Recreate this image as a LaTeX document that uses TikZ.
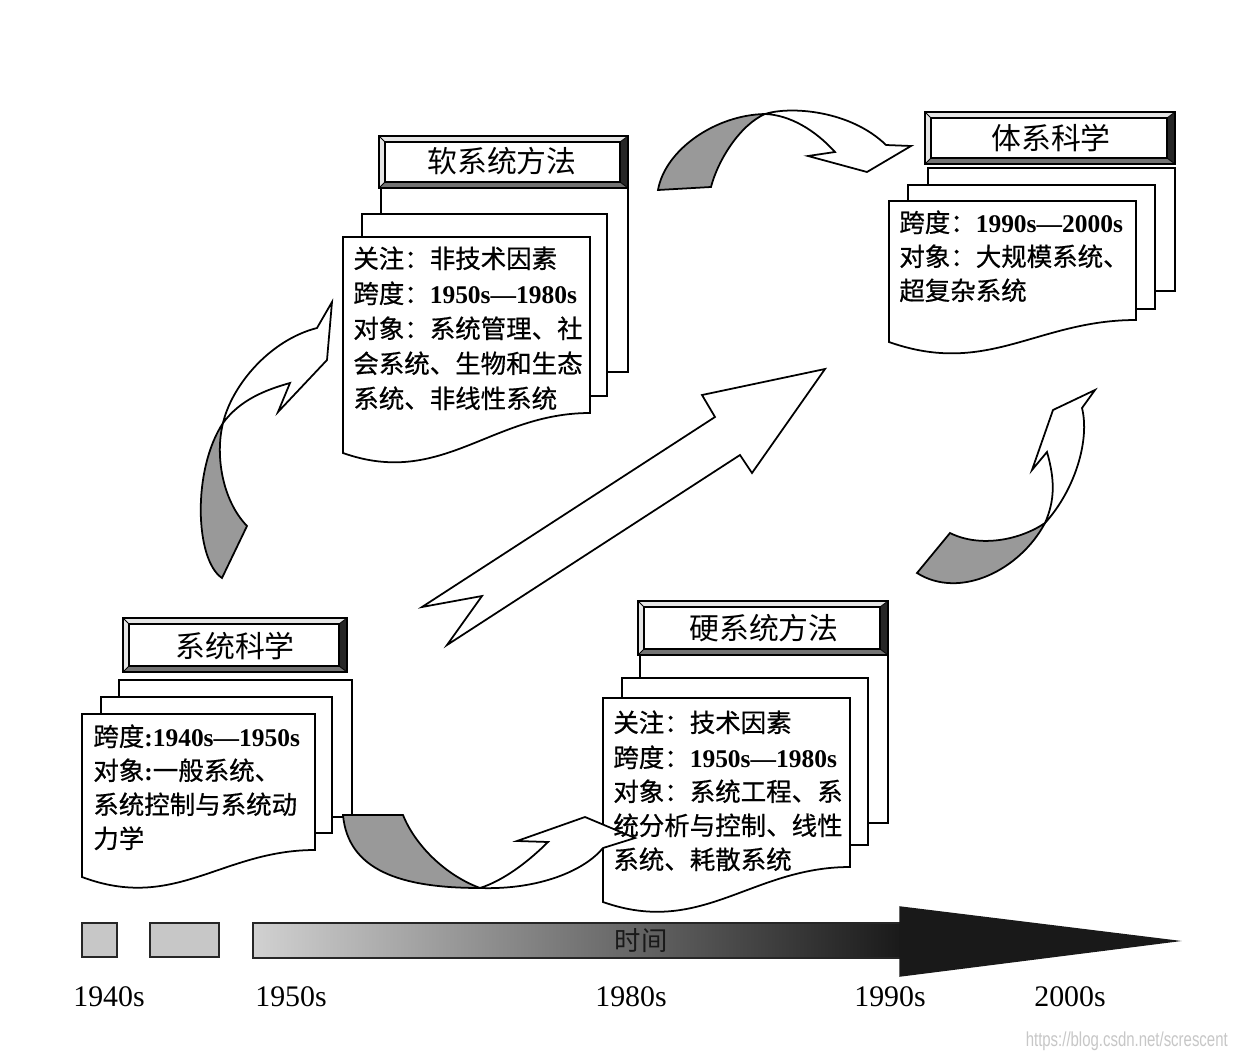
\documentclass[tikz,border=0pt]{standalone}
\usepackage{fontspec}
\setmainfont{Liberation Serif}
\newfontfamily\cjk{Noto Sans CJK SC}
\newfontfamily\cjkb[FakeBold=0.6]{Noto Sans CJK SC}
\newfontfamily\wmfont{Liberation Sans}
\newcommand{\numb}[1]{{\rmfamily\bfseries #1}}
% title box with bevelled frame: x1,y1 (top-left), x2,y2 (bottom-right)
\newcommand{\tbox}[4]{%
  \fill[black!85] (#3,#2) -- (#3,#4) -- (#3-8,#4-6) -- (#3-8,#2+6) -- cycle;
  \fill[black!55] (#1,#4) -- (#3,#4) -- (#3-8,#4-6) -- (#1+6,#4-6) -- cycle;
  \fill[black!10] (#1,#2) -- (#3,#2) -- (#3-8,#2+6) -- (#1+6,#2+6) -- cycle;
  \fill[black!10] (#1,#2) -- (#1,#4) -- (#1+6,#4-6) -- (#1+6,#2+6) -- cycle;
  \draw[line width=1pt] (#1,#2) rectangle (#3,#4);
  \draw[line width=0.8pt,fill=white] (#1+6,#2+6) rectangle (#3-8,#4-6);
  \draw[line width=0.5pt] (#1,#2) -- (#1+6,#2+6) (#3,#2) -- (#3-8,#2+6)
     (#1,#4) -- (#1+6,#4-6) (#3,#4) -- (#3-8,#4-6);
}
% front page with wavy bottom: x1, top, x2, right-bottom, left-bottom
\newcommand{\fpage}[5]{%
  \draw[page] (#1,#2) -- (#3,#2) -- (#3,#4)
    .. controls ({#3-0.4*(#3-#1)},#4) and ({#1+0.4*(#3-#1)},{#5+35}) .. (#1,#5) -- cycle;
}
\begin{document}
\begin{tikzpicture}[x=0.02cm,y=-0.02cm,
  page/.style={draw=black,line width=1pt,fill=white},
  ribbon/.style={draw=black,line width=1pt,fill=white},
  tailpart/.style={draw=black,line width=1pt,fill=black!40},
  body/.style={font=\cjkb\fontsize{14.5}{17}\selectfont,anchor=base west,inner sep=0pt},
  ttl/.style={font=\cjk\fontsize{17}{20}\selectfont,anchor=base,inner sep=0pt},
  yr/.style={font=\fontsize{17}{20}\selectfont,inner sep=0pt},
  tlbox/.style={draw=black!85,line width=1pt,fill=black!22}]
\useasboundingbox (0,0) rectangle (1238,1058);
\fill[white] (0,0) rectangle (1238,1058);

% ---------- 系统科学 ----------
\draw[page] (119,680) rectangle (352,817);
\draw[page] (101,697) rectangle (332,833);
\fpage{82}{714}{315}{850}{877}
\tbox{123}{618}{347}{672}

% ---------- 软系统方法 ----------
\draw[page] (381,188) rectangle (628,372);
\draw[page] (362,214) rectangle (607,396);
\fpage{343}{237}{590}{413}{453}
\tbox{379}{136}{628}{188}

% ---------- 硬系统方法 ----------
\draw[page] (640,655) rectangle (888,823);
\draw[page] (622,678) rectangle (868,845);
\fpage{603}{698}{850}{867}{902}
\tbox{638}{601}{888}{655}

% ---------- 体系科学 ----------
\draw[page] (928,168) rectangle (1175,291);
\draw[page] (908,185) rectangle (1155,309);
\fpage{889}{201}{1136}{320}{342}
\tbox{925}{112}{1175}{164}

% ---------- arrows ----------
% left curved arrow (系统科学 -> 软系统方法)
\draw[tailpart] (222,578) .. controls (195,560) and (192,470) .. (223,423)
  .. controls (215,455) and (222,500) .. (247,526) -- cycle;
\draw[ribbon] (223,423) .. controls (232,385) and (270,340) .. (317,328)
  -- (332,302) -- (327,360) -- (278,412) -- (290,383)
  .. controls (265,390) and (240,400) .. (223,423) -- cycle;
% top curved arrow (软系统方法 -> 体系科学)
\draw[tailpart] (658,190) .. controls (665,150) and (715,115) .. (765,114)
  .. controls (740,125) and (718,160) .. (711,187) -- cycle;
\draw[ribbon] (765,114) .. controls (790,106) and (850,110) .. (886,145)
  -- (911,146) -- (867,172) -- (808,156) -- (835,152)
  .. controls (815,130) and (790,115) .. (765,114) -- cycle;
% right curved arrow (硬系统方法 -> 体系科学)
\draw[tailpart] (917,573) .. controls (960,600) and (1020,570) .. (1045,523)
  .. controls (1020,540) and (980,548) .. (950,533) -- cycle;
\draw[ribbon] (1045,523) .. controls (1075,490) and (1090,440) .. (1082,408)
  -- (1095,390) -- (1053,410) -- (1032,470) -- (1047,452)
  .. controls (1055,480) and (1055,500) .. (1045,523) -- cycle;
% bottom curved arrow (系统科学 -> 硬系统方法)
\draw[tailpart] (343,815) .. controls (348,870) and (400,888) .. (480,888)
  .. controls (445,875) and (415,845) .. (403,815) -- cycle;
\draw[ribbon] (480,888) .. controls (505,880) and (530,860) .. (548,842)
  -- (517,841) -- (585,817) -- (635,838) -- (603,848)
  .. controls (585,870) and (540,890) .. (480,888) -- cycle;
% big diagonal arrow
\draw[ribbon] (422,607) -- (715,417) -- (702,395) -- (825,369) -- (752,473)
  -- (740,455) -- (447,645) -- (482,596) -- cycle;

% ---------- titles ----------
\node[ttl] (t1) at (235,657) {系统科学};
\node[ttl] (t2) at (502,172) {软系统方法};
\node[ttl] (t3) at (764,639) {硬系统方法};
\node[ttl] (t4) at (1051,149) {体系科学};

% ---------- texts ----------
\node[body] (a1) at (93,746) {跨度\numb{:1940s—1950s}};
\node[body] (a2) at (93,780) {对象\numb{:}一般系统、};
\node[body] (a3) at (93,814) {系统控制与系统动};
\node[body] (a4) at (93,848) {力学};

\node[body] (b1) at (353,268) {关注：非技术因素};
\node[body] (b2) at (353,303) {跨度：\numb{1950s—1980s}};
\node[body] (b3) at (353,338) {对象：系统管理、社};
\node[body] (b4) at (353,373) {会系统、生物和生态};
\node[body] (b5) at (353,408) {系统、非线性系统};

\node[body] (c1) at (613,732) {关注：技术因素};
\node[body] (c2) at (613,767) {跨度：\numb{1950s—1980s}};
\node[body] (c3) at (613,801) {对象：系统工程、系};
\node[body] (c4) at (613,835) {统分析与控制、线性};
\node[body] (c5) at (613,869) {系统、耗散系统};

\node[body] (d1) at (899,232) {跨度：\numb{1990s—2000s}};
\node[body] (d2) at (899,266) {对象：大规模系统、};
\node[body] (d3) at (899,300) {超复杂系统};

% ---------- timeline ----------
\draw[tlbox] (82,923) rectangle (117,957);
\draw[tlbox] (150,923) rectangle (219,957);
\shade[left color=black!18,right color=black!90] (253,923) rectangle (902,958);
\draw[black!85,line width=1pt] (902,923) -- (253,923) -- (253,958) -- (902,958);
\draw[fill=black!90,draw=black!90,line width=0.8pt] (900,907) -- (1176,941) -- (900,976) -- cycle;
\node[font=\cjk\fontsize{15}{18}\selectfont,text=black!90,inner sep=0pt] (tm) at (641,941) {时间};

\node[yr] (y1) at (109,997) {1940s};
\node[yr] (y2) at (291,997) {1950s};
\node[yr] (y3) at (631,997) {1980s};
\node[yr] (y4) at (890,997) {1990s};
\node[yr] (y5) at (1070,997) {2000s};

\node[font=\wmfont\fontsize{11.5}{13}\selectfont,text=black!22,xscale=0.74,anchor=east,inner sep=0pt] (wm) at (1228,1041) {https://blog.csdn.net/screscent};
\end{tikzpicture}
\end{document}
